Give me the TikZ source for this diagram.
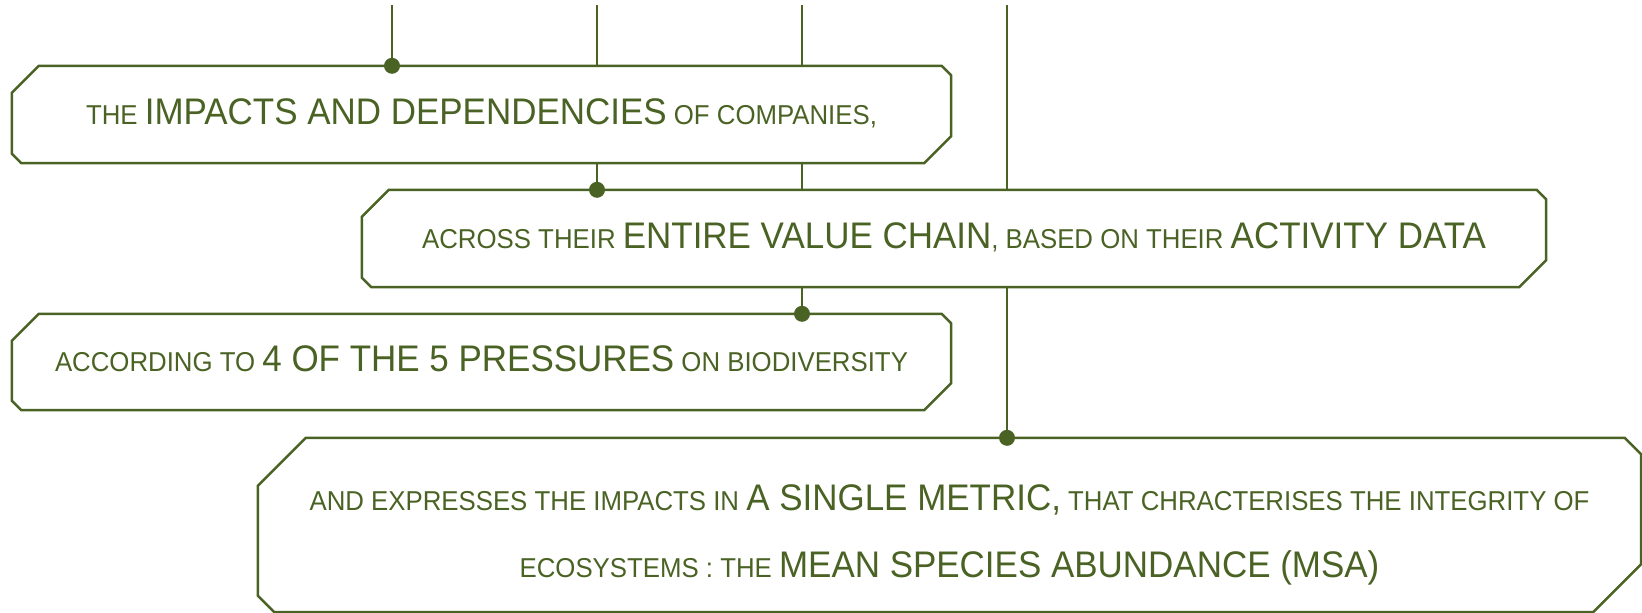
\documentclass[tikz,border=0pt]{standalone}
\usepackage{fontspec}
\setmainfont{Liberation Sans}[FakeStretch=0.945]
\definecolor{moss}{RGB}{74,99,36}
\pgfdeclarelayer{wires}
\pgfdeclarelayer{plates}
\pgfsetlayers{wires,plates,main}
\tikzstyle{panel}=[inner sep=0pt, text=moss, font=\fontsize{27.3}{67}\selectfont]
\tikzstyle{oneline}=[text height=26pt, text depth=7pt]
\tikzstyle{wire}=[draw=moss, line width=2.5pt]
\tikzstyle{plate}=[draw=moss, fill=white, line width=2.5pt]
\newcommand{\lowtext}[1]{{\fontsize{27.3}{67}\selectfont #1}}
\newcommand{\hightext}[1]{{\fontsize{37}{67}\selectfont #1}}
% outline with cut corners: node, big cut, small cut
\newcommand{\panelframe}[3]{%
  \begin{pgfonlayer}{plates}
    \draw[plate] ([xshift=#2]#1.north west) -- ([xshift=-#3]#1.north east)
      -- ([yshift=-#3]#1.north east) -- ([yshift=#2]#1.south east)
      -- ([xshift=-#2]#1.south east) -- ([xshift=#3]#1.south west)
      -- ([yshift=#3]#1.south west) -- ([yshift=-#2]#1.north west) -- cycle;
  \end{pgfonlayer}}

\begin{document}
\begin{tikzpicture}[x=1pt, y=-1pt]
\useasboundingbox (0,0) rectangle (1642,613);
% Panels
    \node[panel, oneline, minimum width=939pt, minimum height=97pt] (impacts) at (481.5,114.5)
      {\lowtext{THE} \hightext{IMPACTS AND DEPENDENCIES} \lowtext{OF COMPANIES,}};
    \node[panel, oneline, minimum width=1184pt, minimum height=97pt] (chain) at (954,238.5)
      {\lowtext{ACROSS THEIR} \hightext{ENTIRE VALUE CHAIN}\lowtext{, BASED ON THEIR} \hightext{ACTIVITY DATA}};
    \node[panel, oneline, minimum width=939pt, minimum height=96pt] (pressures) at (481.5,362)
      {\lowtext{ACCORDING TO} \hightext{4 OF THE 5 PRESSURES} \lowtext{ON BIODIVERSITY}};
    \node[panel, align=center, minimum width=1383pt, minimum height=174pt] (msa) at (949.5,525)
      {\rule{0pt}{46pt}\lowtext{AND EXPRESSES THE IMPACTS IN} \hightext{A SINGLE METRIC,} \lowtext{THAT CHRACTERISES THE INTEGRITY OF}\\
       \lowtext{ECOSYSTEMS : THE} \hightext{MEAN SPECIES ABUNDANCE (MSA)}};
    \panelframe{impacts}{27pt}{9.5pt}
    \panelframe{chain}{27pt}{9.5pt}
    \panelframe{pressures}{27pt}{9.5pt}
    \panelframe{msa}{48pt}{16.5pt}
% Wires from the top
    \coordinate (w1) at (392,5);
    \coordinate (w2) at (597,5);
    \coordinate (w3) at (802,5);
    \coordinate (w4) at (1007,5);
    \begin{pgfonlayer}{wires}
    \draw[wire] (w1) -- (w1 |- impacts.north);
    \draw[wire] (w2) -- (w2 |- chain.north);
    \draw[wire] (w3) -- (w3 |- pressures.north);
    \draw[wire] (w4) -- (w4 |- msa.north);
    \end{pgfonlayer}
% Joints
    \fill[moss] (w1 |- impacts.north) circle(8);
    \fill[moss] (w2 |- chain.north) circle(8);
    \fill[moss] (w3 |- pressures.north) circle(8);
    \fill[moss] (w4 |- msa.north) circle(8);
\end{tikzpicture}
\end{document}
